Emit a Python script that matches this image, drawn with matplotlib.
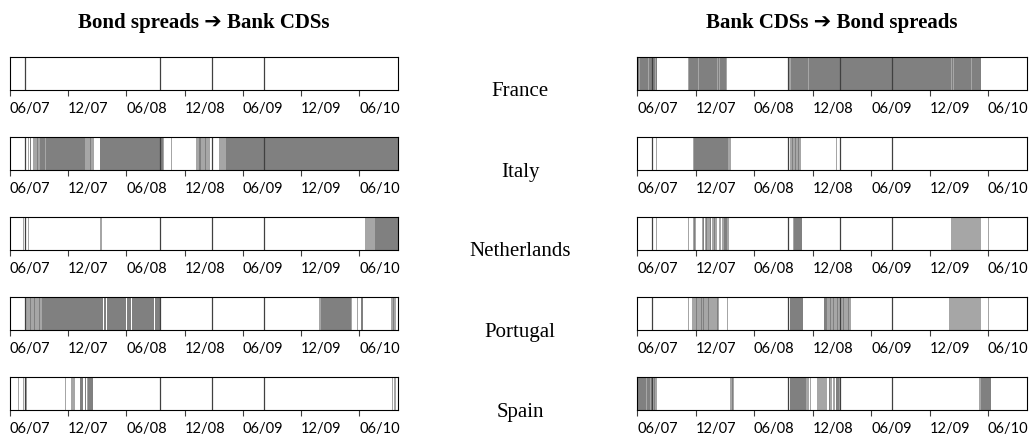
import matplotlib
matplotlib.use("Agg")
import matplotlib.pyplot as plt

# months since June 2007 (0 = 06/07)
tick_pos = [0, 6, 12, 18, 24, 30, 36]
tick_labels = ["06/07", "12/07", "06/08", "12/08", "06/09", "12/09", "06/10"]
x_max = 40
countries = ["France", "Italy", "Netherlands", "Portugal", "Spain"]
titles = ["Bond spreads \u2794 Bank CDSs", "Bank CDSs \u2794 Bond spreads"]
event_lines = [1.58, 15.5, 20.85, 26.15]

# ---- Bond spreads -> Bank CDSs (left column) ----
france_l_dark = []
france_l_light = []
italy_l_dark = [(2.05, 2.15), (2.75, 2.9), (3.1, 3.6), (3.7, 7.7), (8.2, 8.4),
                (9.3, 15.45), (15.6, 15.75), (19.5, 19.7), (20.1, 20.2), (22.3, 40)]
italy_l_light = [(1.85, 1.95), (2.4, 2.75), (2.9, 3.1), (3.6, 3.7), (7.7, 8.2),
                 (8.4, 8.7), (15.75, 15.9), (16.6, 16.7), (19.2, 19.5), (19.7, 20.1),
                 (20.2, 20.6), (21.5, 22.3)]
neth_l_dark = [(37.65, 40)]
neth_l_light = [(1.33, 1.42), (1.85, 1.95), (9.26, 9.5), (36.6, 37.65)]
port_l_dark = [(2.1, 2.2), (2.45, 2.55), (2.95, 3.05), (3.26, 9.55), (9.65, 9.85),
               (9.95, 11.95), (12.05, 12.45), (12.55, 14.85), (14.95, 15.43),
               (32.1, 35.15), (36.2, 36.4), (39.45, 39.55)]
port_l_light = [(1.65, 2.1), (2.2, 2.45), (2.55, 2.95), (3.05, 3.26), (31.9, 32.1),
                (35.15, 35.3), (35.75, 35.85), (39.3, 39.45), (39.55, 39.8)]
spain_l_dark = [(7.2, 7.55), (7.75, 7.85), (8.06, 8.57)]
spain_l_light = [(0.82, 0.9), (1.33, 1.42), (1.65, 1.75), (5.72, 5.8), (6.3, 6.7),
                 (7.9, 8.02), (39.4, 39.5), (39.6, 39.8)]

# ---- Bank CDSs -> Bond spreads (right column) ----
france_r_dark = [(0, 0.25), (0.35, 1.15), (1.25, 1.55), (1.65, 1.8), (1.9, 2.02),
                 (5.35, 6.25), (6.35, 8.2), (8.3, 8.45), (8.55, 9.15),
                 (15.75, 17.5), (17.6, 32.25), (32.35, 32.45), (32.55, 34.25),
                 (34.35, 35.3)]
france_r_light = [(0.25, 0.35), (1.15, 1.25), (1.55, 1.65), (1.8, 1.9), (5.28, 5.35),
                  (6.25, 6.35), (8.2, 8.3), (8.45, 8.55), (9.15, 9.25), (15.6, 15.75),
                  (17.5, 17.6), (32.25, 32.35), (32.45, 32.55), (34.25, 34.35)]
italy_r_dark = [(5.86, 9.35), (15.85, 15.95), (16.2, 16.3), (16.55, 16.65)]
italy_r_light = [(1.95, 2.05), (5.78, 5.86), (9.35, 9.6), (15.65, 15.85), (15.95, 16.2),
                 (16.3, 16.55), (16.65, 16.8), (20.45, 20.55), (20.68, 20.75)]
neth_r_dark = [(5.85, 5.95), (6.75, 6.85), (7.1, 7.2), (7.45, 7.55), (7.85, 7.95),
               (8.9, 9.2), (16.1, 16.9)]
neth_r_light = [(1.95, 2.05), (5.25, 5.32), (5.7, 5.85), (5.95, 6.0), (6.62, 6.75),
                (7.0, 7.1), (7.2, 7.45), (7.7, 7.85), (7.95, 8.2), (8.4, 8.6),
                (8.75, 8.9), (9.2, 9.45), (15.95, 16.1), (32.2, 35.3), (36.05, 36.12)]
port_r_dark = [(5.8, 5.88), (6.05, 6.12), (6.6, 6.7), (6.8, 6.9), (7.3, 7.4),
               (7.96, 8.04), (8.2, 8.28), (15.74, 17.04), (19.15, 19.5), (19.8, 19.9),
               (20.1, 20.2), (20.5, 20.6), (21.15, 21.25), (21.65, 21.75)]
port_r_light = [(5.25, 5.32), (5.6, 5.8), (5.88, 6.05), (6.12, 6.6), (6.7, 6.8),
                (6.9, 7.3), (7.4, 7.96), (8.04, 8.2), (8.28, 8.4), (9.28, 9.36),
                (15.65, 15.74), (19.5, 19.8), (19.9, 20.1), (20.2, 20.5), (20.6, 21.15),
                (21.25, 21.65), (21.75, 21.9), (32.0, 35.3), (36.05, 36.12)]
spain_r_dark = [(0, 0.95), (1.05, 1.3), (1.4, 1.65), (1.72, 1.85), (9.7, 9.8),
                (15.67, 17.3), (19.65, 19.75), (20.4, 20.7), (35.3, 36.3)]
spain_r_light = [(0.95, 1.05), (1.3, 1.4), (1.65, 1.72), (1.85, 2.1), (9.5, 9.7),
                 (9.8, 9.9), (17.3, 17.6), (17.75, 17.85), (18.5, 19.5), (19.75, 20.05),
                 (20.15, 20.35), (20.7, 20.82), (35.1, 35.3)]

left_dark = [france_l_dark, italy_l_dark, neth_l_dark, port_l_dark, spain_l_dark]
left_light = [france_l_light, italy_l_light, neth_l_light, port_l_light, spain_l_light]
right_dark = [france_r_dark, italy_r_dark, neth_r_dark, port_r_dark, spain_r_dark]
right_light = [france_r_light, italy_r_light, neth_r_light, port_r_light, spain_r_light]

DARK = "#808080"
LIGHT = "#a6a6a6"
EVENT = "#404040"

W, H = 1030, 441
fig = plt.figure(figsize=(W / 100, H / 100), dpi=100)

tick_font = dict(family=["Lato", "DejaVu Sans"], size=10.5)
serif = ["Liberation Serif", "DejaVu Sans"]

col_left = [10, 637]
col_width = [388, 390]
panel_top0 = 57
panel_step = 80
panel_h = 33

def draw_panel(ax, dark, light):
    for s, e in light:
        ax.axvspan(s, e, color=LIGHT, lw=0)
    for s, e in dark:
        ax.axvspan(s, e, color=DARK, lw=0)
    for x in event_lines:
        ax.axvline(x, color=EVENT, lw=0.9)
    ax.set_xlim(0, x_max)
    ax.set_ylim(0, 1)
    ax.set_yticks([])
    ax.set_xticks(tick_pos)
    ax.set_xticklabels(tick_labels, ha="left", **tick_font)
    ax.tick_params(axis="x", length=4, width=0.8, color="#404040", pad=5)
    for sp in ax.spines.values():
        sp.set_linewidth(0.8)
        sp.set_color("black")

for c in range(2):
    darks = left_dark if c == 0 else right_dark
    lights = left_light if c == 0 else right_light
    for i in range(5):
        top = panel_top0 + i * panel_step
        ax = fig.add_axes([col_left[c] / W, (H - top - panel_h) / H,
                           col_width[c] / W, panel_h / H])
        draw_panel(ax, darks[i], lights[i])
    cx = (col_left[c] + col_width[c] / 2) / W
    fig.text(cx, 1 - 23 / H, titles[c], ha="center", va="center",
             family=serif, weight="bold", size=15)

for i, name in enumerate(countries):
    y = panel_top0 + i * panel_step + 35
    fig.text(520 / W, 1 - y / H, name, ha="center", va="center",
             family=serif, size=15)

fig.savefig("out.png", dpi=100)
